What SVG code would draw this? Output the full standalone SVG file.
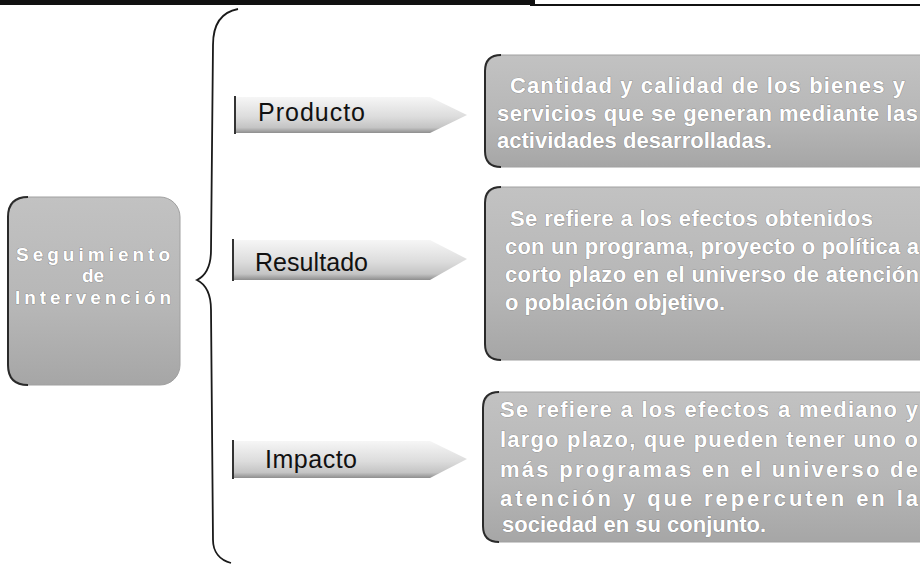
<svg xmlns="http://www.w3.org/2000/svg" width="920" height="564" viewBox="0 0 920 564">
<style>
  .box { fill: url(#boxGrad); stroke: #a0a0a0; stroke-width: 1; }
  .edge { fill: none; stroke: #2a2a2a; stroke-width: 2; }
  .arrow { fill: url(#arrowGrad); stroke: none; }
  .arrowEdge { stroke: #333; stroke-width: 2; }
  .lbl { font-family: "Liberation Sans", Arial, sans-serif; font-size: 25px; fill: #111; }
  .wt { font-family: "Liberation Sans", Arial, sans-serif; font-size: 22px; font-weight: bold; fill: #ffffff; stroke: #7a7a7a; stroke-width: 0.7; paint-order: stroke; }
  .wc { font-family: "Liberation Sans", Arial, sans-serif; font-size: 19px; font-weight: bold; fill: #ffffff; stroke: #7a7a7a; stroke-width: 0.7; paint-order: stroke; text-anchor: middle; }
  .conn { fill: none; stroke: #1a1a1a; stroke-width: 1.8; }
</style>
<defs>
  <linearGradient id="boxGrad" x1="0" y1="0" x2="0" y2="1">
    <stop offset="0" stop-color="#c2c2c2"/>
    <stop offset="0.6" stop-color="#b6b6b6"/>
    <stop offset="1" stop-color="#a6a6a6"/>
  </linearGradient>
  <linearGradient id="arrowGrad" x1="0" y1="0" x2="0" y2="1">
    <stop offset="0" stop-color="#f6f6f6"/>
    <stop offset="0.55" stop-color="#dcdcdc"/>
    <stop offset="0.85" stop-color="#c4c4c4"/>
    <stop offset="1" stop-color="#8e8e8e"/>
  </linearGradient>
</defs>
<rect width="920" height="564" fill="#ffffff"/>

<g id="top-band">
  <rect x="0" y="0" width="535" height="5" fill="#111"/>
  <line x1="530" y1="5" x2="920" y2="5" stroke="#111" stroke-width="2"/>
</g>

<g id="connectors">
  <path class="conn" d="M 238 9 C 222 12, 213 24, 213 45 L 211 250 C 211 268, 205 276, 197 280 C 205 284, 211 292, 211 310 L 213 540 C 213 552, 220 560, 231 563"/>
</g>

<g id="node-secuencia">
  <rect class="box" x="8" y="197" width="172" height="188" rx="20"/>
  <path class="edge" d="M 28 197 Q 8 197 8 217 L 8 365 Q 8 385 28 385"/>
  <text class="wc" x="93" y="261" textLength="154" lengthAdjust="spacing">Seguimiento</text>
  <text class="wc" x="93" y="282">de</text>
  <text class="wc" x="93" y="304" textLength="156" lengthAdjust="spacing">Intervención</text>
</g>

<g id="node-producto">
  <polygon class="arrow" points="235,97 430,97 467,115 430,133 235,133"/>
  <line class="arrowEdge" x1="235" y1="96" x2="235" y2="134"/>
  <text class="lbl" x="258" y="121" textLength="107" lengthAdjust="spacing">Producto</text>
</g>

<g id="node-resultado">
  <polygon class="arrow" points="233,240 430,240 467,259 430,280 233,280"/>
  <line class="arrowEdge" x1="233" y1="239" x2="233" y2="281"/>
  <text class="lbl" x="255" y="271" textLength="113" lengthAdjust="spacing">Resultado</text>
</g>

<g id="node-impacto">
  <polygon class="arrow" points="233,441 430,441 467,459 430,478 233,478"/>
  <line class="arrowEdge" x1="233" y1="440" x2="233" y2="479"/>
  <text class="lbl" x="265" y="468" textLength="92" lengthAdjust="spacing">Impacto</text>
</g>

<g id="node-producto-desc">
  <rect class="box" x="485" y="55" width="460" height="112" rx="16"/>
  <path class="edge" d="M 501 55 Q 485 55 485 71 L 485 151 Q 485 167 501 167"/>
  <text class="wt" x="510" y="93" textLength="395" lengthAdjust="spacing">Cantidad y calidad de los bienes y</text>
  <text class="wt" x="497" y="121" textLength="421" lengthAdjust="spacing">servicios que se generan mediante las</text>
  <text class="wt" x="497" y="148">actividades desarrolladas.</text>
</g>

<g id="node-resultado-desc">
  <rect class="box" x="485" y="187" width="460" height="173" rx="16"/>
  <path class="edge" d="M 501 187 Q 485 187 485 203 L 485 344 Q 485 360 501 360"/>
  <text class="wt" x="510" y="226" textLength="363" lengthAdjust="spacing">Se refiere a los efectos obtenidos</text>
  <text class="wt" x="505" y="254" textLength="414" lengthAdjust="spacing">con un programa, proyecto o política a</text>
  <text class="wt" x="505" y="282" textLength="414" lengthAdjust="spacing">corto plazo en el universo de atención</text>
  <text class="wt" x="505" y="310">o población objetivo.</text>
</g>

<g id="node-impacto-desc">
  <rect class="box" x="483" y="392" width="460" height="150" rx="16"/>
  <path class="edge" d="M 499 392 Q 483 392 483 408 L 483 526 Q 483 542 499 542"/>
  <text class="wt" x="500" y="417" textLength="418" lengthAdjust="spacing">Se refiere a los efectos a mediano y</text>
  <text class="wt" x="500" y="447" textLength="418" lengthAdjust="spacing">largo plazo, que pueden tener uno o</text>
  <text class="wt" x="500" y="477" textLength="418" lengthAdjust="spacing">más programas en el universo de</text>
  <text class="wt" x="500" y="506" textLength="418" lengthAdjust="spacing">atención y que repercuten en la</text>
  <text class="wt" x="502" y="532">sociedad en su conjunto.</text>
</g>
</svg>
